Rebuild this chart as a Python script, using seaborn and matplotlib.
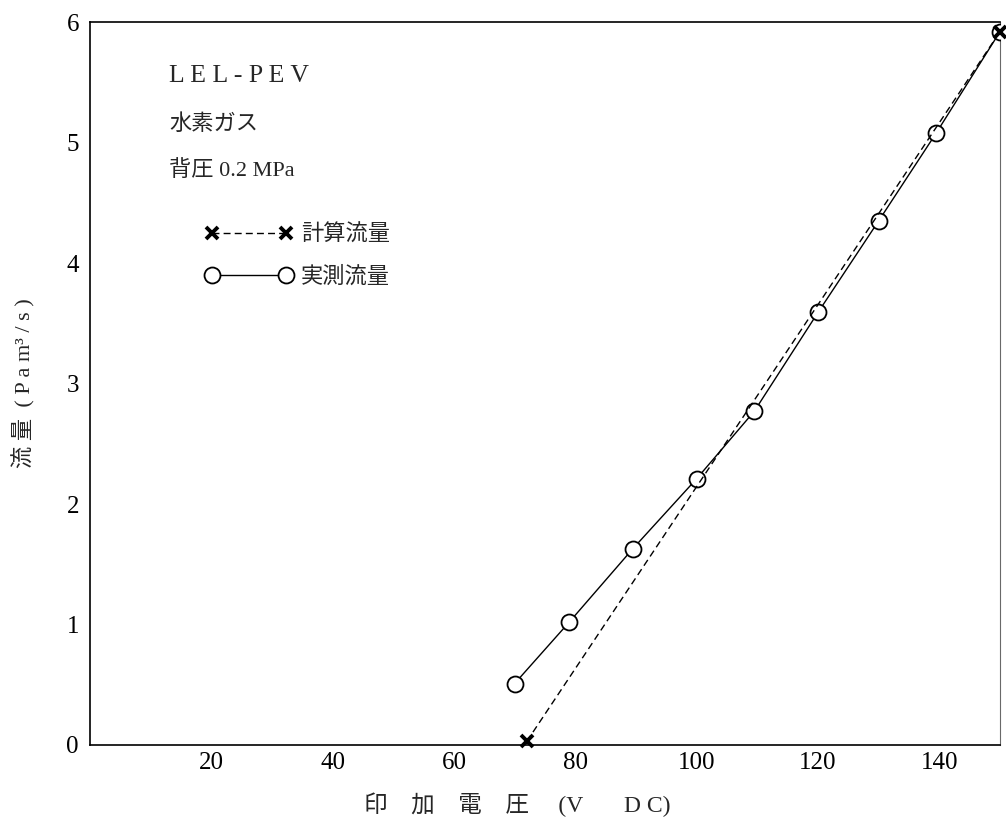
import matplotlib
matplotlib.use('Agg')
import matplotlib.pyplot as plt
import seaborn as sns
import pandas as pd

# measured flow (circles) and calculated flow (crosses)
meas_volt = [70, 79, 89.5, 100, 109.5, 120, 130, 139.5, 150]
meas_flow = [0.51, 1.02, 1.63, 2.21, 2.77, 3.59, 4.35, 5.08, 5.92]
calc_volt = [72, 150]
calc_flow = [0.03, 5.92]
x_ticks = [20, 40, 60, 80, 100, 120, 140]
y_ticks = [0, 1, 2, 3, 4, 5, 6]

sns.set_theme(style='white')
plt.rcParams['font.family'] = ['Liberation Serif', 'Noto Sans CJK JP', 'DejaVu Sans']

meas = pd.DataFrame({'volt': meas_volt, 'flow': meas_flow})
calc = pd.DataFrame({'volt': calc_volt, 'flow': calc_flow})

fig = plt.figure(figsize=(10.06, 8.19), dpi=100)
ax = fig.add_axes([0.0895, 0.0904, 0.9045, 0.8826])

sns.lineplot(data=calc, x='volt', y='flow', ax=ax, color='black', linewidth=1, linestyle=(0, (5, 3)),
             marker='x', markersize=9, markeredgewidth=2.8, markeredgecolor='black',
             label='計算流量', clip_on=False, zorder=4)
sns.lineplot(data=meas, x='volt', y='flow', ax=ax, color='black', linewidth=1,
             marker='o', markersize=11.5, markerfacecolor='white', markeredgecolor='black',
             markeredgewidth=1.3, label='実測流量', zorder=3)

ax.set_xlim(0, 150)
ax.set_ylim(0, 6)
ax.set_xticks(x_ticks)
ax.set_yticks(y_ticks)
ax.tick_params(direction='in', length=7, width=1, colors='black', labelsize=18, pad=5)
ax.tick_params(axis='y', pad=8)
for side in ['left', 'bottom', 'top']:
    ax.spines[side].set_color('black')
    ax.spines[side].set_linewidth(1.2)
ax.spines['right'].set_color('dimgray')
ax.spines['right'].set_linewidth(0.8)

ax.set_xlabel('印    加    電    圧     (V       D C)', fontsize=17)
ax.xaxis.set_label_coords(0.469, -0.066)
ax.set_ylabel('流 量  ( P a m³ / s )', fontsize=16, labelpad=22)

ax.text(0.087, 0.925, 'L E L - P E V', transform=ax.transAxes, fontsize=18.5, va='center')
ax.text(0.087, 0.858, '水素ガス', transform=ax.transAxes, fontsize=16, va='center')
ax.text(0.087, 0.795, '背圧 0.2 MPa', transform=ax.transAxes, fontsize=16, va='center')

ax.legend(loc='upper left', bbox_to_anchor=(0.105, 0.748), frameon=False, numpoints=2,
          handlelength=3.9, handletextpad=0.4, labelspacing=0.95, fontsize=16)

fig.savefig('out.png', dpi=100)
